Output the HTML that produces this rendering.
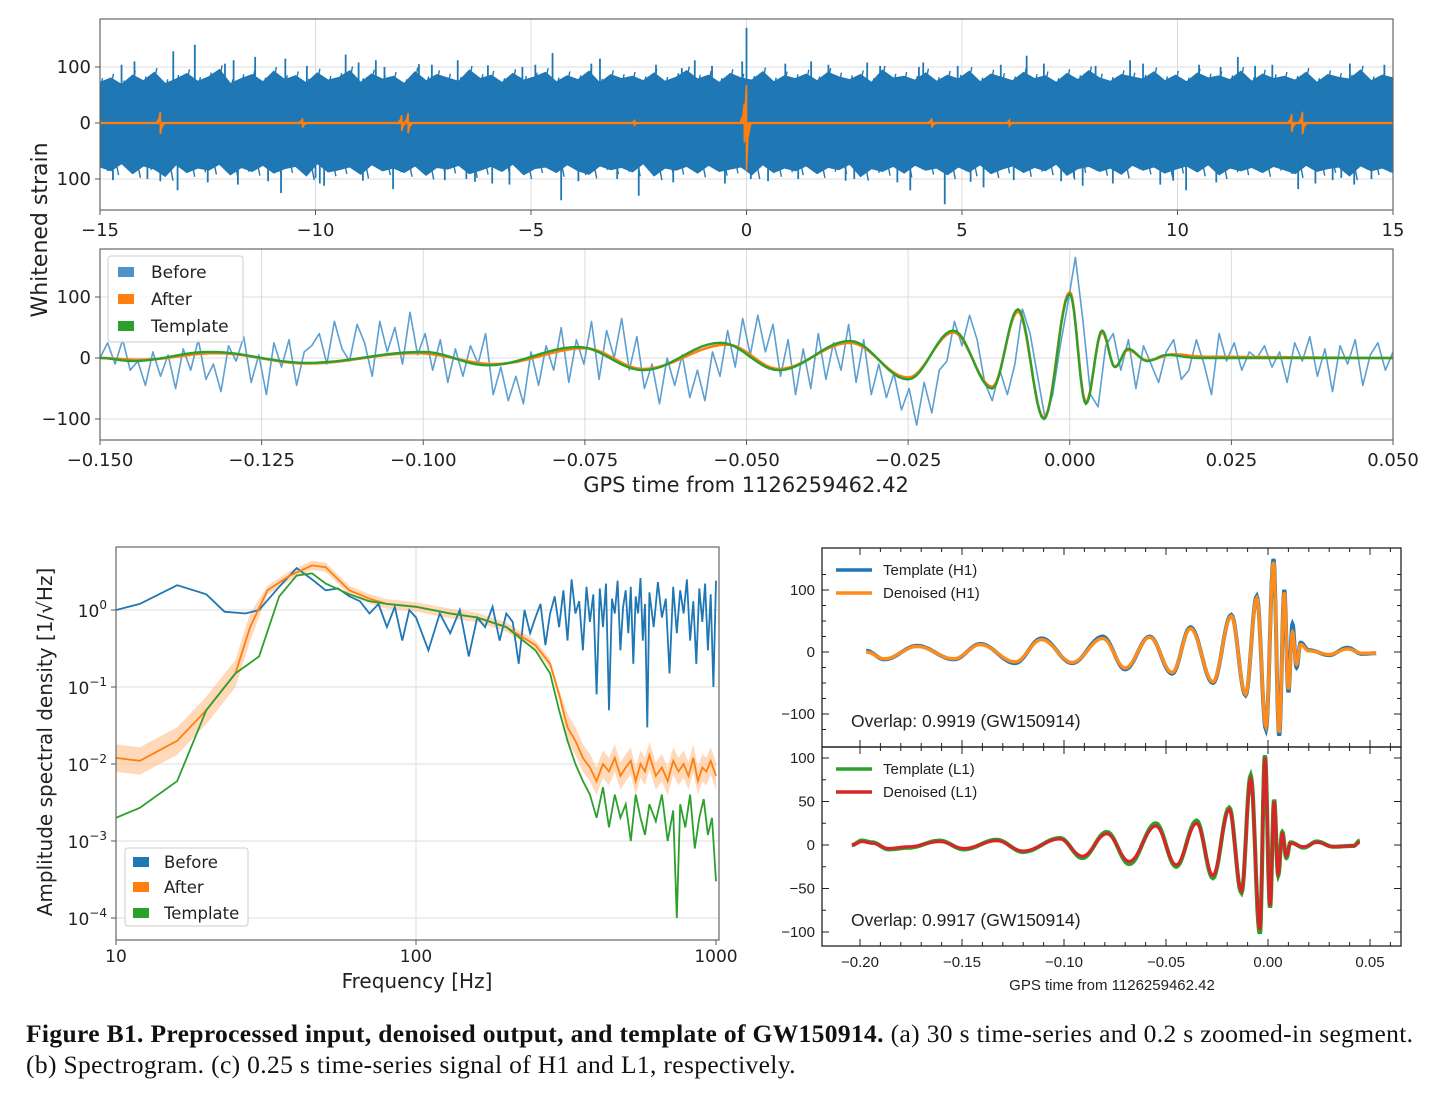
<!DOCTYPE html>
<html><head><meta charset="utf-8"><style>
body{margin:0;background:#fff;}
svg{display:block;font-family:"DejaVu Sans","Liberation Sans",sans-serif;}
.cap{position:absolute;left:26px;font-family:"Liberation Serif",serif;font-size:25.5px;letter-spacing:0.35px;color:#111;white-space:nowrap;}
</style></head><body>
<div style="position:relative;width:1436px;height:1098px;overflow:hidden">
<svg id="fig" width="1436" height="1098" viewBox="0 0 1436 1098" xmlns="http://www.w3.org/2000/svg">
<defs>
<clipPath id="cA"><rect x="100" y="19" width="1293" height="191"/></clipPath>
<clipPath id="cB"><rect x="100" y="249" width="1293" height="191"/></clipPath>
<clipPath id="cC"><rect x="116" y="547" width="603" height="393"/></clipPath>
<clipPath id="cD1"><rect x="822" y="548" width="579" height="199"/></clipPath>
<clipPath id="cD2"><rect x="822" y="747" width="579" height="199"/></clipPath>
</defs>
<g id="gA"></g>
<g id="gB"></g>
<g id="gC"></g>
<g id="gD"></g>
<text transform="translate(47,230) rotate(-90)" text-anchor="middle" font-size="22" fill="#222">Whitened strain</text>
<text x="746" y="492" text-anchor="middle" font-size="21" fill="#222">GPS time from 1126259462.42</text>
<text x="417" y="988" text-anchor="middle" font-size="20" fill="#222">Frequency [Hz]</text>
<text transform="translate(52,742) rotate(-90)" text-anchor="middle" font-size="20" fill="#222">Amplitude spectral density [1/√Hz]</text>
<text x="1112" y="990" text-anchor="middle" font-size="15" fill="#222" font-family="Liberation Sans, sans-serif">GPS time from 1126259462.42</text>
</svg>
<div class="cap" style="top:1019px"><b>Figure B1. Preprocessed input, denoised output, and template of GW150914.</b> (a) 30 s time-series and 0.2 s zoomed-in segment.</div>
<div class="cap" style="top:1050px">(b) Spectrogram. (c) 0.25 s time-series signal of H1 and L1, respectively.</div>
</div>
<script>
// ---------- DATA ----------
const aHi=[72,80,68,85,75,90,70,78,88,74,82,95,70,79,86,73,92,77,84,71,89,76,81,93,72,87,78,83,70,91,75,86,80,74,94,79,85,72,88,76,82,90,73,84,77,92,71,86,79,83,75,89,74,81,93,78,85,72,88,80,76,91,73,84,79,87,75,90,82,77,86,72,94,80,83,76,89,74,85,78,92,73,87,81,75,90,79,84,72,88,77,93,80,74,86,82,78,91,75,85,73,89,80,84,77,92,74,87,79,83,76,90,72,86,81,78,94,75,85,80];
const aLo=[-78,-85,-72,-90,-76,-82,-95,-74,-88,-80,-84,-73,-92,-79,-86,-75,-89,-81,-77,-94,-72,-87,-83,-78,-91,-74,-85,-80,-88,-76,-93,-79,-82,-75,-90,-84,-77,-86,-73,-92,-81,-78,-88,-74,-85,-91,-76,-83,-79,-87,-72,-94,-80,-84,-77,-89,-75,-86,-82,-78,-92,-74,-88,-80,-85,-76,-90,-79,-83,-73,-95,-81,-86,-77,-89,-75,-84,-80,-92,-78,-87,-74,-90,-82,-76,-88,-79,-85,-73,-93,-81,-77,-86,-80,-91,-75,-84,-78,-89,-82,-76,-87,-74,-92,-80,-85,-79,-88,-77,-83,-90,-75,-86,-81,-78,-94,-76,-85,-80,-88];
const aSpikeT=[-14.2,-13.3,-12.8,-11.9,-11.4,-10.7,-9.3,-8.6,-6.7,-4.5,-13.9,-13.2,-11.8,-10.8,-9.8,-4.3,-8.2,-2.5,0,0.1,-0.1,4.6,3.8,6.5,5.5,10.2,12.8,8.9,2.8,13.2,-7.6,-5.9,1.5,7.8,11.4,14.1,-1.2,9.6,-3.4,-14.7,-14.5,-12.5,-12.1,-11.1,-10.2,-9.9,-9.0,-8.9,-7.3,-7.0,-6.3,-6.0,-5.5,-5.2,-4.9,-3.9,-3.6,-3.0,-2.1,-1.7,-0.8,-0.5,0.5,0.9,1.2,1.9,2.3,3.1,3.5,4.1,4.9,5.2,5.9,6.2,6.9,7.3,8.1,8.5,9.2,9.9,10.5,10.9,11.8,12.2,13.6,14.0,14.5,14.8,-13.6,-10.0,-8.4,-6.5,-1.5,2.5,4.0,7.6,11.0,13.8];
const aSpikeV=[110,128,140,112,118,115,122,112,112,125,-100,-120,-110,-125,-112,-138,-118,-130,170,-100,110,-145,-120,120,-115,-120,-118,112,108,-108,105,-108,110,-112,118,-110,112,-110,115,-102,104,-106,106,-104,102,-108,108,-103,104,-102,-105,103,-110,100,104,-104,106,-100,104,-106,102,-108,-104,106,-100,104,-103,102,-106,108,102,-105,104,-102,106,-104,102,-108,106,-103,104,-106,102,104,-102,106,-100,104,-104,-98,100,-100,98,-100,100,-98,100,-98,96];
const aBurstT=[-13.6,-10.3,-8.0,-7.85,-0.05,0.0,4.3,12.65,12.9,-2.6,6.1];
const aBurstV=[20,8,14,18,35,68,8,16,20,4,5];
const bBefore=[0,25,-10,30,-20,-5,-45,10,-30,5,-50,15,-20,30,-35,-10,-55,20,-5,35,-40,5,-60,25,-15,30,-45,10,20,40,-10,60,15,-5,55,25,-30,60,10,50,-10,75,5,40,-20,30,-40,15,-30,20,-10,40,-60,-15,-70,-30,-75,10,-45,20,-20,50,-40,30,-10,60,-35,45,0,65,-20,35,-50,-10,-75,0,-45,5,-65,-20,-70,10,-30,45,-15,65,5,70,10,55,-30,30,-60,15,-50,40,-35,25,-20,55,-40,30,-60,-10,-65,-25,-85,-50,-110,-40,-90,-20,-5,60,20,70,30,-40,-70,-20,-60,-10,80,40,-30,-100,-60,20,90,165,60,-60,-80,20,40,-20,30,-50,20,-10,-40,10,30,-35,-20,30,-10,-60,40,-5,25,-20,10,0,20,-15,10,-40,25,-5,35,-30,15,-55,20,-10,30,-45,5,25,-20,10];
const bTplT=[-0.15,-0.145,-0.133,-0.118,-0.1,-0.09,-0.076,-0.066,-0.054,-0.045,-0.034,-0.025,-0.018,-0.012,-0.008,-0.004,0.0,0.0025,0.005,0.007,0.009,0.012,0.015,0.02,0.05];
const bTplV=[0,-5,10,-8,10,-12,18,-20,25,-20,28,-35,45,-50,80,-100,105,-75,45,-15,15,-5,5,0,0];
const bAftT=[-0.15,-0.144,-0.132,-0.118,-0.101,-0.089,-0.075,-0.066,-0.053,-0.045,-0.034,-0.025,-0.018,-0.012,-0.008,-0.004,0.0,0.0025,0.005,0.007,0.009,0.012,0.016,0.021,0.05];
const bAftV=[0,-3,8,-9,8,-10,16,-18,22,-18,25,-32,42,-47,76,-98,108,-72,42,-14,13,-4,6,2,0];
const cBeforeF=[10,12,16,20,23,27,30,35,40,45,50,55,60,65,70,75,80,85,90,95,100,110,120,130,140,150,160,170,180,190,200,210,220,230,240,250,260,270,280,290,300,310,320,330,340,350,360,370,380,390,400,410,420,430,440,450,460,470,480,490,500,510,520,530,540,550,560,570,580,590,600,620,640,660,680,700,720,740,760,780,800,820,840,860,880,900,920,940,960,980,1000];
const cBeforeV=[1.0,1.2,2.1,1.6,0.95,0.9,1.0,2.0,3.5,2.5,1.8,1.9,1.5,1.3,0.9,1.2,0.6,1.1,0.4,1.0,0.8,0.3,0.9,0.5,1.0,0.25,0.8,0.6,1.1,0.4,0.9,0.7,0.2,1.0,0.5,0.8,1.2,0.35,0.9,1.5,0.6,1.8,0.4,2.5,0.9,1.3,0.3,2.0,0.7,1.6,0.08,1.9,0.6,2.2,0.05,1.4,0.9,2.4,0.3,1.1,1.8,0.5,2.0,0.2,1.5,0.9,2.6,0.4,1.2,0.03,1.7,0.6,2.3,0.8,1.4,0.15,2.0,0.5,1.8,0.9,2.5,0.4,1.3,0.2,1.9,0.7,2.2,0.3,1.6,0.1,2.4];
const cAfterF=[10,12,16,20,25,28,32,38,45,50,55,60,70,80,100,130,160,200,250,280,300,320,340,360,380,400,420,440,460,480,500,520,540,560,580,600,630,660,690,720,750,780,810,840,870,900,930,960,1000];
const cAfterV=[0.012,0.011,0.02,0.05,0.15,0.6,1.8,2.8,3.8,3.6,2.5,1.8,1.4,1.2,1.1,0.9,0.8,0.6,0.35,0.2,0.08,0.03,0.02,0.012,0.009,0.006,0.01,0.008,0.012,0.007,0.009,0.011,0.006,0.01,0.008,0.013,0.007,0.009,0.006,0.011,0.008,0.01,0.007,0.012,0.006,0.009,0.008,0.011,0.007];
const cTplF=[10,12,16,20,25,30,35,40,45,50,60,70,80,100,130,160,200,250,280,300,320,340,360,380,400,420,440,460,480,500,520,540,560,580,600,630,660,690,720,740,760,790,820,850,880,910,940,970,1000];
const cTplV=[0.002,0.0027,0.006,0.05,0.15,0.25,1.5,2.8,3.0,2.2,1.6,1.3,1.2,1.1,0.9,0.8,0.6,0.3,0.15,0.05,0.02,0.01,0.006,0.004,0.002,0.005,0.0015,0.004,0.002,0.003,0.001,0.004,0.002,0.0012,0.003,0.0018,0.004,0.001,0.0025,0.0001,0.003,0.0015,0.004,0.0008,0.002,0.0035,0.0012,0.002,0.0003];
const dH1T=[-0.197,-0.188,-0.172,-0.154,-0.141,-0.124,-0.111,-0.096,-0.081,-0.070,-0.058,-0.047,-0.038,-0.027,-0.018,-0.011,-0.0055,-0.001,0.0027,0.0055,0.008,0.010,0.012,0.014,0.016,0.020,0.030,0.039,0.046,0.053];
const dH1V=[2,-12,10,-12,13,-18,22,-18,25,-28,25,-35,40,-50,60,-70,90,-125,150,-135,100,-65,45,-25,15,3,-5,7,-3,-2];
const dH1dV=[0,-11,9,-11,12,-16,20,-17,22,-26,24,-33,38,-48,58,-68,87,-120,145,-130,96,-60,32,-20,12,2,-4,5,-2,-2];
const dL1T=[-0.204,-0.199,-0.194,-0.186,-0.176,-0.161,-0.149,-0.133,-0.120,-0.102,-0.091,-0.079,-0.068,-0.055,-0.045,-0.035,-0.027,-0.019,-0.013,-0.0085,-0.004,-0.0015,0.001,0.003,0.005,0.007,0.009,0.011,0.0175,0.024,0.032,0.042,0.045];
const dL1V=[0,5,3,-5,-3,5,-5,6,-8,8,-15,15,-22,25,-25,28,-38,43,-55,80,-102,103,-72,52,-35,15,-15,3,-3,4,-2,-1,5];
const dL1dV=[0,4,2,-4,-2,4,-4,5,-7,7,-13,13,-19,22,-23,25,-35,41,-53,76,-97,100,-70,50,-33,13,-13,2,-2,3,-2,-1,3];

// ---------- SCALES ----------
const xA=t=>100+(t+15)/30*1293, yA=v=>123-v*0.56;
const xB=t=>100+(t+0.15)/0.2*1293, yB=v=>358-v*0.61;
const xC=f=>116+Math.log10(f/10)*300, yC=v=>610-Math.log10(v)*77;
const xD=t=>1268+t*2040, yD1=v=>652-v*0.62, yD2=v=>845-v*0.87;

const NS='http://www.w3.org/2000/svg';
function mk(tag,attrs,parent){const e=document.createElementNS(NS,tag);for(const k in attrs)e.setAttribute(k,attrs[k]);parent.appendChild(e);return e;}
function smoothPath(ts,vs,fx,fy){let d='M'+fx(ts[0]).toFixed(1)+','+fy(vs[0]).toFixed(1);for(let i=0;i<ts.length-1;i++){for(let k=1;k<=12;k++){const u=k/12,e=(1-Math.cos(Math.PI*u))/2;const t=ts[i]+(ts[i+1]-ts[i])*u,v=vs[i]+(vs[i+1]-vs[i])*e;d+='L'+fx(t).toFixed(1)+','+fy(v).toFixed(1);}}return d;}
function polyPath(xs,ys){return xs.map((x,i)=>(i?'L':'M')+x.toFixed(1)+','+ys[i].toFixed(1)).join('');}

const gA=document.getElementById('gA'),gB=document.getElementById('gB'),gC=document.getElementById('gC'),gD=document.getElementById('gD');

function mplAxes(g,x0,y0,w,h,xt,xl,fx,yt,yl,fy,name){
  xt.forEach((t,i)=>{const x=fx(t);
    const gl=mk('line',{x1:x,x2:x,y1:y0,y2:y0+h,stroke:'#dcdcdc','stroke-width':1},g);
    
    const tk=mk('line',{x1:x,x2:x,y1:y0+h,y2:y0+h+5,stroke:'#555','stroke-width':1},g);
    
    const tx=mk('text',{x:x,y:y0+h+26,'text-anchor':'middle','font-size':18,fill:'#222'},g);tx.textContent=xl[i];
    });
  yt.forEach((v,i)=>{const y=fy(v);
    const gl=mk('line',{x1:x0,x2:x0+w,y1:y,y2:y,stroke:'#dcdcdc','stroke-width':1},g);
    
    const tk=mk('line',{x1:x0-5,x2:x0,y1:y,y2:y,stroke:'#555','stroke-width':1},g);
    
    const tx=mk('text',{x:x0-9,y:y+6,'text-anchor':'end','font-size':18,fill:'#222'},g);tx.textContent=yl[i];
    });
}
const aXT=[-15,-10,-5,0,5,10,15], aXL=['\u221215','\u221210','\u22125','0','5','10','15'];
const aYT=[100,0,-100], aYL=['100','0','100'];
mplAxes(gA,100,19,1293,191,aXT,aXL,xA,aYT,aYL,yA,'panel-a');
{
  const g=mk('g',{'clip-path':'url(#cA)'},gA);
  const n=aHi.length;const xs=[],ys=[];
  for(let i=0;i<n;i++){xs.push(xA(-15+30*i/(n-1)));ys.push(yA(aHi[i]));}
  for(let i=n-1;i>=0;i--){xs.push(xA(-15+30*i/(n-1)));ys.push(yA(aLo[i]));}
  const band=mk('path',{d:polyPath(xs,ys)+'Z',fill:'#1f77b4',stroke:'#1f77b4','stroke-width':1.5},g);
  
  let d='';for(let i=0;i<n;i++){const t=-15+30*i/(n-1);d+='M'+xA(t).toFixed(1)+','+yA(aHi[i]*0.82)+'L'+xA(t+0.06).toFixed(1)+','+yA(aHi[i]+8)+'M'+xA(t+0.12).toFixed(1)+','+yA(aLo[i]*0.82)+'L'+xA(t+0.18).toFixed(1)+','+yA(aLo[i]-8);}
  const jag=mk('path',{d:d,stroke:'#1f77b4','stroke-width':1.4,fill:'none'},g);
  
  aSpikeT.forEach((t,i)=>{const s=mk('line',{x1:xA(t),x2:xA(t),y1:yA(0),y2:yA(aSpikeV[i]),stroke:'#1f77b4','stroke-width':1.8},g);
    });
  const z=mk('line',{x1:100,x2:1393,y1:yA(0),y2:yA(0),stroke:'#ff7f0e','stroke-width':2.2},g);
  
  aBurstT.forEach((t,i)=>{const a=aBurstV[i];
    const b=mk('path',{d:'M'+xA(t-0.1)+','+yA(0)+'L'+xA(t-0.03)+','+yA(a*0.4)+'L'+xA(t)+','+yA(a)+'L'+xA(t)+','+yA(-a*(t===0?1.25:1))+'L'+xA(t+0.03)+','+yA(-a*0.4)+'L'+xA(t+0.1)+','+yA(0)+'Z',fill:'#ff7f0e',stroke:'#ff7f0e','stroke-width':1.6},g);
    });
  const fr=mk('rect',{x:100,y:19,width:1293,height:191,fill:'none',stroke:'#666','stroke-width':1.2},gA);
  
}

const bXT=[-0.15,-0.125,-0.1,-0.075,-0.05,-0.025,0,0.025,0.05];
const bXL=['\u22120.150','\u22120.125','\u22120.100','\u22120.075','\u22120.050','\u22120.025','0.000','0.025','0.050'];
const bYT=[100,0,-100], bYL=['100','0','\u2212100'];
mplAxes(gB,100,249,1293,191,bXT,bXL,xB,bYT,bYL,yB,'panel-a-zoom');
{
  const g=mk('g',{'clip-path':'url(#cB)'},gB);
  const n=bBefore.length;const xs=[],ys=[];
  for(let i=0;i<n;i++){xs.push(xB(-0.15+0.2*i/(n-1)));ys.push(yB(bBefore[i]));}
  const p=mk('path',{d:polyPath(xs,ys),fill:'none',stroke:'#5d9fd1','stroke-width':1.6,'stroke-linejoin':'round'},g);
  
  const a=mk('path',{d:smoothPath(bAftT,bAftV,xB,yB),fill:'none',stroke:'#ff7f0e','stroke-width':2.6},g);
  
  const t=mk('path',{d:smoothPath(bTplT,bTplV,xB,yB),fill:'none',stroke:'#2ca02c','stroke-width':2.4},g);
  
  const fr=mk('rect',{x:100,y:249,width:1293,height:191,fill:'none',stroke:'#666','stroke-width':1.2},gB);
  
  const lg=mk('g',{},gB);
  mk('rect',{x:108,y:256,width:135,height:86,fill:'#fff','fill-opacity':0.85,stroke:'#ccc',rx:3},lg);
  [['Before','#4d94cc',272],['After','#ff7f0e',299],['Template','#2ca02c',326]].forEach(e=>{
    const en=mk('g',{},lg);
    mk('rect',{x:118,y:e[2]-5,width:16,height:10,fill:e[1]},en);
    const tx=mk('text',{x:151,y:e[2]+6,'font-size':17,fill:'#222'},en);tx.textContent=e[0];});
}

{
  const g0=gC;
  [100].forEach(f=>{const l=mk('line',{x1:xC(f),x2:xC(f),y1:547,y2:940,stroke:'#dcdcdc'},g0);});
  const cYT=[1,0.1,0.01,0.001,0.0001], cYE=['0','\u22121','\u22122','\u22123','\u22124'];
  cYT.forEach((v,i)=>{const y=yC(v);
    const l=mk('line',{x1:116,x2:719,y1:y,y2:y,stroke:'#dcdcdc'},g0);
    const tk=mk('line',{x1:111,x2:116,y1:y,y2:y,stroke:'#555'},g0);
    const tx=mk('text',{x:107,y:y+7,'text-anchor':'end','font-size':17,fill:'#222'},g0);
    
    tx.appendChild(document.createTextNode('10'));const sp=mk('tspan',{dy:-8,'font-size':12},tx);sp.textContent=cYE[i];});
  const cXT=[10,100,1000];
  cXT.forEach(f=>{const x=xC(f);
    const tk=mk('line',{x1:x,x2:x,y1:940,y2:945,stroke:'#555'},g0);
    const tx=mk('text',{x:x,y:962,'text-anchor':'middle','font-size':17,fill:'#222'},g0);tx.textContent=String(f);
    });
  const g=mk('g',{'clip-path':'url(#cC)'},gC);
  const bx=cAfterF.map(xC);
  const hiF=(f,v)=>v*(f<30||f>300?1.5:1.15), loF=(f,v)=>v*(f<30||f>300?0.66:0.87);
  const band=mk('path',{d:polyPath(bx.concat(bx.slice().reverse()),cAfterV.map((v,i)=>yC(hiF(cAfterF[i],v))).concat(cAfterV.map((v,i)=>yC(loF(cAfterF[i],v))).reverse()))+'Z',fill:'#ffbf8a','fill-opacity':0.6,stroke:'none'},g);
  
  const pb=mk('path',{d:polyPath(cBeforeF.map(xC),cBeforeV.map(yC)),fill:'none',stroke:'#1f77b4','stroke-width':1.8},g);
  
  const pa=mk('path',{d:polyPath(bx,cAfterV.map(yC)),fill:'none',stroke:'#ff7f0e','stroke-width':1.8},g);
  
  const pt=mk('path',{d:polyPath(cTplF.map(xC),cTplV.map(yC)),fill:'none',stroke:'#2ca02c','stroke-width':1.8},g);
  
  const fr=mk('rect',{x:116,y:547,width:603,height:393,fill:'none',stroke:'#666','stroke-width':1.2},gC);
  
  const lg=mk('g',{},gC);
  mk('rect',{x:125,y:848,width:123,height:78,fill:'#fff','fill-opacity':0.9,stroke:'#ccc',rx:3},lg);
  [['Before','#1f77b4',862],['After','#ff7f0e',887],['Template','#2ca02c',913]].forEach(e=>{
    const en=mk('g',{},lg);
    mk('rect',{x:133,y:e[2]-5,width:16,height:10,fill:e[1]},en);
    const tx=mk('text',{x:164,y:e[2]+6,'font-size':16.5,fill:'#222'},en);tx.textContent=e[0];});
}

function dAxes(y0,h,fy,yt,yl,minor,name){
  const g=mk('g',{'font-family':'Liberation Sans, sans-serif'},gD);
  for(let t=-0.2;t<=0.0601;t+=0.01){const x=xD(t);const major=Math.abs(Math.round(t*100)%5)===0;const L=major?7:4;
    mk('line',{x1:x,x2:x,y1:y0,y2:y0+L,stroke:'#222'},g);mk('line',{x1:x,x2:x,y1:y0+h,y2:y0+h-L,stroke:'#222'},g);}
  minor.forEach(v=>{const y=fy(v);mk('line',{x1:822,x2:826,y1:y,y2:y,stroke:'#222'},g);mk('line',{x1:1401,x2:1397,y1:y,y2:y,stroke:'#222'},g);});
  yt.forEach((v,i)=>{const y=fy(v);mk('line',{x1:822,x2:829,y1:y,y2:y,stroke:'#222'},g);mk('line',{x1:1401,x2:1394,y1:y,y2:y,stroke:'#222'},g);
    const tx=mk('text',{x:815,y:y+5,'text-anchor':'end','font-size':15,fill:'#222'},g);tx.textContent=yl[i];
    });
  const fr=mk('rect',{x:822,y:y0,width:579,height:h,fill:'none',stroke:'#222','stroke-width':1.3},g);
  
}
const d1YT=[100,0,-100], d1YL=['100','0','\u2212100'];
const d2YT=[100,50,0,-50,-100], d2YL=['100','50','0','\u221250','\u2212100'];
dAxes(548,199,yD1,d1YT,d1YL,[125,75,50,25,-25,-50,-75,-125],'h1');
dAxes(747,199,yD2,d2YT,d2YL,[75,25,-25,-75],'l1');
{
  const g1=mk('g',{'clip-path':'url(#cD1)'},gD);
  const a=mk('path',{d:smoothPath(dH1T,dH1V,xD,yD1),fill:'none',stroke:'#1f77b4','stroke-width':4},g1);
  
  const b=mk('path',{d:smoothPath(dH1T,dH1dV,xD,yD1),fill:'none',stroke:'#ff8c1a','stroke-width':3.4},g1);
  
  const g2=mk('g',{'clip-path':'url(#cD2)'},gD);
  const c=mk('path',{d:smoothPath(dL1T,dL1V,xD,yD2),fill:'none',stroke:'#2ca02c','stroke-width':4.2},g2);
  
  const d=mk('path',{d:smoothPath(dL1T,dL1dV,xD,yD2),fill:'none',stroke:'#d62728','stroke-width':3.2},g2);
  
  const dXT=[-0.2,-0.15,-0.1,-0.05,0,0.05], dXL=['\u22120.20','\u22120.15','\u22120.10','\u22120.05','0.00','0.05'];
  dXT.forEach((t,i)=>{const tx=mk('text',{x:xD(t),y:967,'text-anchor':'middle','font-size':15,fill:'#222','font-family':'Liberation Sans, sans-serif'},gD);tx.textContent=dXL[i];
    });
  [['Template (H1)','#1f77b4',570],['Denoised (H1)','#ff8c1a',593],['Template (L1)','#2ca02c',769],['Denoised (L1)','#d62728',792]].forEach(e=>{
    const en=mk('g',{'font-family':'Liberation Sans, sans-serif'},gD);
    mk('line',{x1:836,x2:872,y1:e[2],y2:e[2],stroke:e[1],'stroke-width':3.5},en);
    const tx=mk('text',{x:883,y:e[2]+5,'font-size':15,fill:'#222'},en);tx.textContent=e[0];});
  [['Overlap: 0.9919 (GW150914)',727],['Overlap: 0.9917 (GW150914)',926]].forEach((e,i)=>{
    const tx=mk('text',{x:851,y:e[1],'font-size':17.5,fill:'#222','font-family':'Liberation Sans, sans-serif'},gD);tx.textContent=e[0];
    });
}
</script>
</body></html>
